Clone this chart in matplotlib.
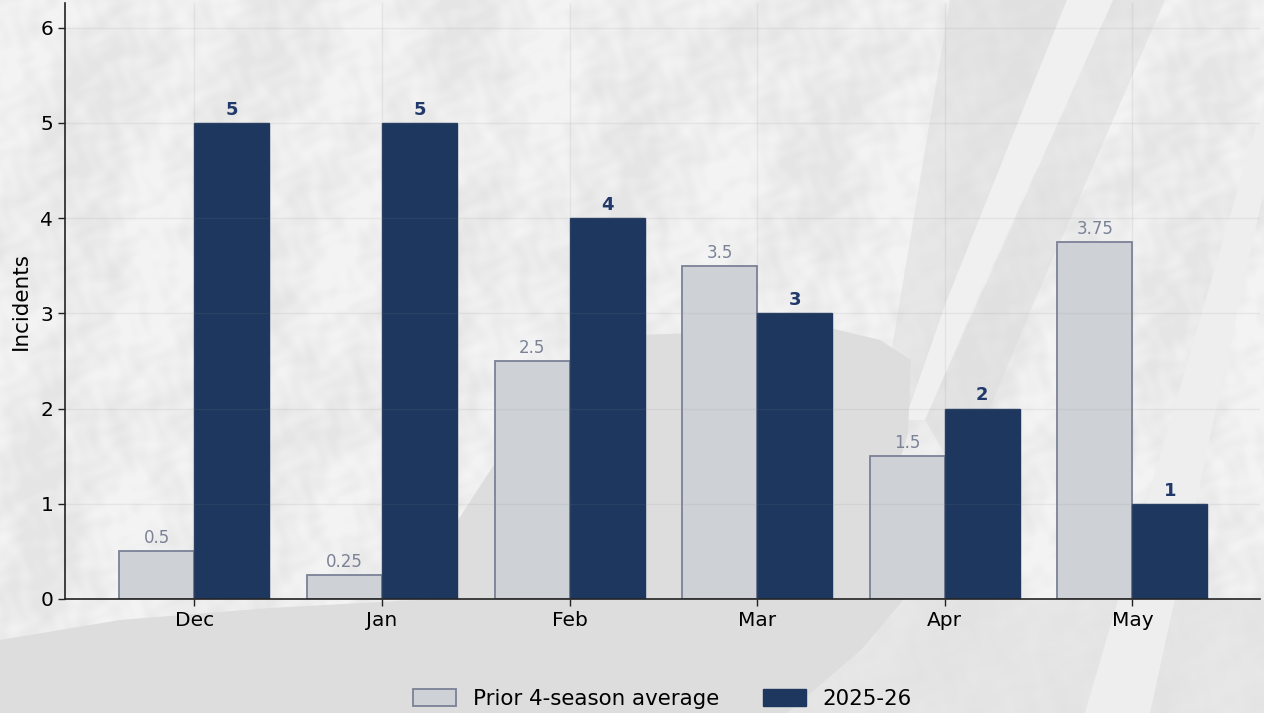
import matplotlib
matplotlib.use("Agg")
import matplotlib.pyplot as plt
import numpy as np

months = ["Dec", "Jan", "Feb", "Mar", "Apr", "May"]
prior_avg = [0.5, 0.25, 2.5, 3.5, 1.5, 3.75]
current = [5, 5, 4, 3, 2, 1]
prior_labels = ["0.5", "0.25", "2.5", "3.5", "1.5", "3.75"]
current_labels = ["5", "5", "4", "3", "2", "1"]
yticks = [0, 1, 2, 3, 4, 5, 6]

NAVY = "#1d375f"
LIGHT = "#ced2d7"
EDGE = "#7b8296"

W, H = 1264, 713
fig = plt.figure(figsize=(W / 100, H / 100), dpi=100)

# backdrop: washed out satellite map, only roughly traced
bg = fig.add_axes([0, 0, 1, 1], zorder=-1)
yy, xx = np.mgrid[0:H, 0:W]
u = xx * 0.92 + yy * 0.40
v = yy * 0.92 - xx * 0.40
tex = (0.9 * np.sin(u / 31 + np.sin(v / 47)) * np.sin(v / 83 + np.sin(u / 61))
       + 0.7 * np.sin(u / 11 + 2 * np.sin(v / 23)) * np.sin(v / 19 + 1.5 * np.sin(u / 17))
       + 0.5 * np.sin(u / 4.3 + np.sin(v / 7)) * np.sin(v / 5.1 + np.sin(u / 9)))
tex = 236 + 6 * np.clip(tex, -1.2, 1.2)
bg.imshow(tex, cmap="gray", vmin=0, vmax=255, extent=(0, W, H, 0), aspect="auto", interpolation="bilinear")
bg.fill([950, 1067, 947, 905, 880], [0, 0, 300, 420, 420], color="#dcdcdc", alpha=0.5, lw=0)
bg.fill([1113, 1165, 1035, 960, 925], [0, 0, 300, 480, 420], color="#dcdcdc", alpha=0.5, lw=0)
bg.fill([1067, 1113, 977, 925, 905, 947], [0, 0, 300, 420, 420, 300], color="#f0f0f0", lw=0)
bg.fill([787, 903, 1264, 1264], [713, 600, 600, 713], color="#e2e2e2", alpha=0.7, lw=0)
bg.fill([1264, 1264, 1150, 1085], [100, 190, 713, 713], color="#eeeeee", lw=0)
bg.fill([0, 120, 270, 455, 458, 510, 560, 640, 830, 880, 911, 908, 869, 903, 861, 787, 0],
        [640, 620, 608, 598, 520, 440, 375, 335, 328, 340, 360, 433, 566, 600, 650, 713, 713],
        color="#dddddd", lw=0)
bg.set_xlim(0, W)
bg.set_ylim(H, 0)
bg.axis("off")

ax = fig.add_axes([65 / W, (H - 599) / H, 1195 / W, 596 / H])
ax.patch.set_alpha(0)

x = np.arange(len(months))
width = 0.4
b1 = ax.bar(x - width / 2, prior_avg, width, color=LIGHT, edgecolor=EDGE, linewidth=1.3, label="Prior 4-season average")
b2 = ax.bar(x + width / 2, current, width, color=NAVY, edgecolor=NAVY, linewidth=1.0, label="2025-26")

for r, s in zip(b1, prior_labels):
    ax.annotate(s, (r.get_x() + r.get_width() / 2, r.get_height()), xytext=(0, 3), textcoords="offset points",
                ha="center", va="bottom", fontsize=12, color=EDGE)
for r, s in zip(b2, current_labels):
    ax.annotate(s, (r.get_x() + r.get_width() / 2, r.get_height()), xytext=(0, 3), textcoords="offset points",
                ha="center", va="bottom", fontsize=13, fontweight="bold", color="#20396a")

ax.set_xticks(x, labels=months)
ax.set_yticks(yticks)
ax.set_xlim(-0.69, 5.68)
ax.set_ylim(0, 6.26)
ax.set_ylabel("Incidents", fontsize=15.5, labelpad=7)
ax.tick_params(axis="both", labelsize=14.5, length=5, width=1, color="#222222")
ax.grid(True, color="#888888", alpha=0.12, linewidth=1)
ax.set_axisbelow(False)
for side in ["top", "right"]:
    ax.spines[side].set_visible(False)
for side in ["left", "bottom"]:
    ax.spines[side].set_color("#222222")
    ax.spines[side].set_linewidth(1.2)

ax.legend(loc="upper center", bbox_to_anchor=(0.5, -0.143), ncol=2, frameon=False, fontsize=15.4,
          handlelength=2.0, handleheight=0.85, handletextpad=0.8, columnspacing=2.05, borderaxespad=0, borderpad=0.2)

fig.savefig("out.png", dpi=100)
